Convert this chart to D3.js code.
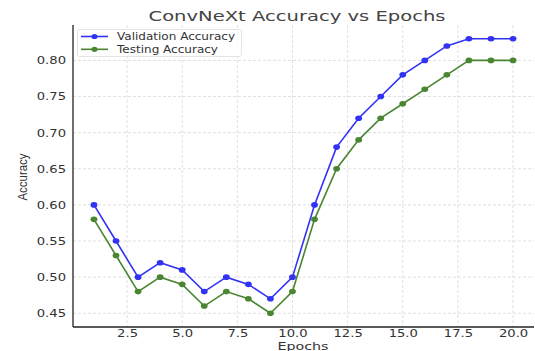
<!DOCTYPE html>
<html><head><meta charset="utf-8">
<script src="https://cdn.jsdelivr.net/npm/d3@7"></script>
<style>
body{margin:0;background:#fff;}
svg{display:block;}
</style></head>
<body>
<svg id="chart" width="535" height="351"></svg>
<script>
const epochs = [1,2,3,4,5,6,7,8,9,10,11,12,13,14,15,16,17,18,19,20];
const validationAccuracy = [0.60,0.55,0.50,0.52,0.51,0.48,0.50,0.49,0.47,0.50,0.60,0.68,0.72,0.75,0.78,0.80,0.82,0.83,0.83,0.83];
const testingAccuracy = [0.58,0.53,0.48,0.50,0.49,0.46,0.48,0.47,0.45,0.48,0.58,0.65,0.69,0.72,0.74,0.76,0.78,0.80,0.80,0.80];
const xTicks = [2.5,5.0,7.5,10.0,12.5,15.0,17.5,20.0];
const yTicks = [0.45,0.50,0.55,0.60,0.65,0.70,0.75,0.80];
const seriesNames = ["Validation Accuracy","Testing Accuracy"];
const seriesColors = ["#3232f5","#4a8531"];
const titleText = "ConvNeXt Accuracy vs Epochs";

(function(){
const svg = d3.select("#chart");
const pL = 73, pR = 534, pT = 25, pB = 327;
const x = d3.scaleLinear().domain([0.05, 20.95]).range([pL, pR]);
const y = d3.scaleLinear().domain([0.431, 0.849]).range([pB, pT]);
const SX = 1.25;
function stretch(sel, f) {
  sel.each(function(){
    const w = this.getComputedTextLength();
    d3.select(this).attr("textLength", w * f).attr("lengthAdjust", "spacingAndGlyphs");
  });
}

// grid
const grid = svg.append("g");
grid.selectAll(".gx").data(xTicks).enter().append("line")
  .attr("x1", d=>x(d)).attr("x2", d=>x(d)).attr("y1", pT).attr("y2", pB)
  .attr("stroke", "#d8d8d8").attr("stroke-width", 0.8).attr("stroke-dasharray", "3,2");
grid.selectAll(".gy").data(yTicks).enter().append("line")
  .attr("x1", pL).attr("x2", pR).attr("y1", d=>y(d)).attr("y2", d=>y(d))
  .attr("stroke", "#d8d8d8").attr("stroke-width", 0.8).attr("stroke-dasharray", "3,2");

// axes
const xAxis = d3.axisBottom(x).tickValues(xTicks).tickFormat(d3.format(".1f")).tickSize(0).tickPadding(3);
const yAxis = d3.axisLeft(y).tickValues(yTicks).tickFormat(d3.format(".2f")).tickSize(0).tickPadding(7);
const gx = svg.append("g").attr("transform", `translate(0,${pB})`).call(xAxis);
const gy = svg.append("g").attr("transform", `translate(${pL},0)`).call(yAxis);
[gx, gy].forEach(g => {
  g.select(".domain").remove();
  g.selectAll("text").attr("font-family", "DejaVu Sans, sans-serif").attr("font-size", 10.5).attr("fill", "#333");
  stretch(g.selectAll("text"), SX);
});
svg.append("line").attr("x1", pL).attr("x2", pL).attr("y1", pT).attr("y2", pB).attr("stroke", "#222").attr("stroke-width", 1.3);
svg.append("line").attr("x1", pL).attr("x2", pR).attr("y1", pB).attr("y2", pB).attr("stroke", "#222").attr("stroke-width", 1.3);

// series
const allSeries = [validationAccuracy, testingAccuracy];
const line = d3.line().x((d,i)=>x(epochs[i])).y(d=>y(d));
allSeries.forEach((vals, si) => {
  svg.append("path").datum(vals).attr("d", line).attr("fill", "none")
    .attr("stroke", seriesColors[si]).attr("stroke-width", 1.6);
  svg.append("g").selectAll("ellipse").data(vals).enter().append("ellipse")
    .attr("cx", (d,i)=>x(epochs[i])).attr("cy", d=>y(d)).attr("rx", 3.4).attr("ry", 2.8)
    .attr("fill", seriesColors[si]);
});

// title
const t = svg.append("text").attr("x", 297).attr("y", 21).attr("text-anchor", "middle")
  .attr("font-family", "DejaVu Sans, sans-serif").attr("font-size", 14.5).attr("fill", "#444").text(titleText);
t.attr("textLength", 297).attr("lengthAdjust", "spacingAndGlyphs");

// axis labels
svg.append("text").attr("x", 303).attr("y", 349.5).attr("text-anchor", "middle")
  .attr("font-family", "DejaVu Sans, sans-serif").attr("font-size", 11).attr("fill", "#333")
  .attr("textLength", 51).attr("lengthAdjust", "spacingAndGlyphs").text("Epochs");
svg.append("text").attr("transform", "translate(27,177) rotate(-90)").attr("text-anchor", "middle")
  .attr("font-family", "Liberation Sans Narrow, Liberation Sans, sans-serif").attr("font-size", 12.5)
  .attr("textLength", 47).attr("lengthAdjust", "spacingAndGlyphs").attr("fill", "#333").text("Accuracy");

// legend
const lg = svg.append("g");
lg.append("rect").attr("x", 77.5).attr("y", 29.5).attr("width", 164).attr("height", 27).attr("rx", 2)
  .attr("fill", "#fff").attr("fill-opacity", 0.85).attr("stroke", "#ddd").attr("stroke-width", 0.8);
const legendWidths = [118, 101];
seriesNames.forEach((name, i) => {
  const ly = 36.5 + i * 12.8;
  lg.append("line").attr("x1", 81).attr("x2", 108).attr("y1", ly).attr("y2", ly)
    .attr("stroke", seriesColors[i]).attr("stroke-width", 1.6);
  lg.append("ellipse").attr("cx", 94.5).attr("cy", ly).attr("rx", 3).attr("ry", 2.6).attr("fill", seriesColors[i]);
  lg.append("text").attr("x", 117).attr("y", ly + 3.8).attr("font-family", "DejaVu Sans, sans-serif")
    .attr("font-size", 10).attr("fill", "#333")
    .attr("textLength", legendWidths[i]).attr("lengthAdjust", "spacingAndGlyphs").text(name);
});
})();
</script>
</body></html>
